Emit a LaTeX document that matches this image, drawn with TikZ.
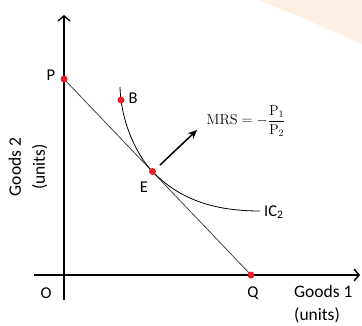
\documentclass[tikz,border=0pt]{standalone}
\usepackage[no-math]{fontspec}
\setmainfont{Carlito}
\usetikzlibrary{arrows.meta}
\definecolor{dotred}{RGB}{234,30,40}
\definecolor{peach}{RGB}{255,240,228}
\definecolor{linegray}{RGB}{70,70,70}
\begin{document}
\begin{tikzpicture}[x=1pt,y=-1pt,
  axis/.style={line width=1.4pt,-{Straight Barb[length=5pt,width=12pt,line width=1.4pt]}},
  dot/.style={circle,fill=dotred,inner sep=0pt,minimum size=7pt},
  lbl/.style={font=\fontsize{16.5}{19}\selectfont,inner sep=0pt},
  budget/.style={line width=0.8pt,draw=linegray},
  curve/.style={line width=0.8pt,draw=black},
  mrsarrow/.style={line width=1.5pt,-{Stealth[length=9pt,width=8pt]}}]
\useasboundingbox (0,0) rectangle (362,325);
% faint background tint
\fill[peach] (258,0) -- (362,0) -- (362,44) .. controls (330,30) and (290,12) .. cycle;
% axes
\coordinate (ybot) at (64,300);
\coordinate (ytop) at (64,15);
\coordinate (xleft) at (34,275);
\coordinate (xright) at (360,275);
\draw[axis] (ybot) -- (ytop);
\draw[axis] (xleft) -- (xright);
% points
\coordinate (Pc) at (64,79);
\coordinate (Qc) at (251,275);
\coordinate (Ec) at (152.5,171.5);
\coordinate (ictop) at (120,87);
\coordinate (icend) at (260,211);
% budget line
\draw[budget] (Pc) -- (Qc);
% indifference curve
\draw[curve] (ictop) .. controls (121,122) and (136.5,155) .. (Ec)
             .. controls (180,200) and (215,211) .. (icend);
% MRS arrow
\coordinate (astart) at (160,165);
\coordinate (aend) at (197,130);
\draw[mrsarrow] (astart) -- (aend);
% dots
\node[dot] (P) at (Pc) {};
\node[dot] (Q) at (Qc) {};
\node[dot] (E) at (Ec) {};
\node[dot] (B) at (121,100) {};
% labels
\node[lbl] (Plbl) at (51,75) {P};
\node[lbl] (Blbl) at (133,98) {B};
\node[lbl] (Elbl) at (144,187) {E};
\node[lbl] (Olbl) at (46,293) {O};
\node[lbl] (Qlbl) at (253,293) {Q};
\node[lbl,anchor=west] (IClbl) at (264,212) {IC\textsubscript{2}};
\node[lbl,anchor=west,align=left,font=\fontsize{17.5}{23}\selectfont] (x1lbl) at (294,304) {Goods 1\\(units)};
\node[lbl,align=center,rotate=90,font=\fontsize{17.5}{24}\selectfont] (y2lbl) at (28,167) {Goods 2\\(units)};
\node[inner sep=0pt,font=\fontsize{14}{17}\selectfont] (mrs) at (246,121) {$\displaystyle\mathrm{MRS}=-\frac{\mathrm{P}_1}{\mathrm{P}_2}$};
\end{tikzpicture}
\end{document}
